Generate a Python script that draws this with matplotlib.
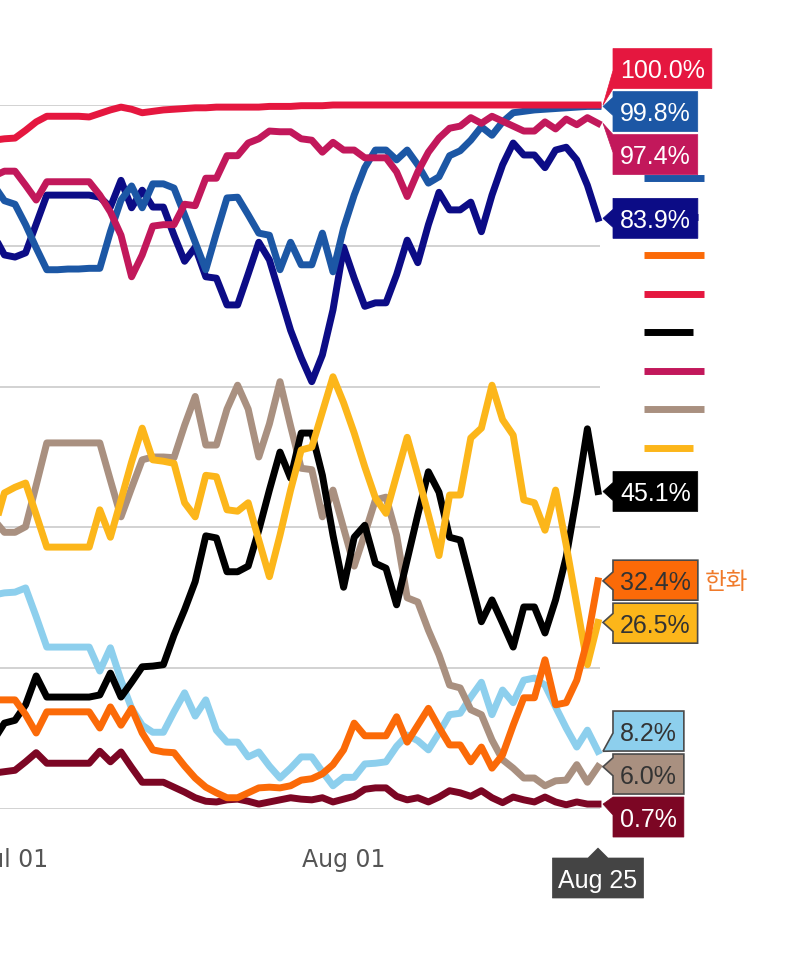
import numpy as np
import matplotlib
matplotlib.use('Agg')
import matplotlib.pyplot as plt
from matplotlib.patches import Polygon
from matplotlib.lines import Line2D
from matplotlib.transforms import IdentityTransform

# days counted from Jul 01 (Jun 29 .. Aug 25)
days = np.arange(-2, 56)
tick_days = [0, 31]
tick_labels = ['Jul 01', 'Aug 01']
end_label = 'Aug 25'

red = [95.0, 95.2, 95.3, 96.4, 97.6, 98.4, 98.4, 98.4, 98.4, 98.3,
       98.8, 99.3, 99.7, 99.4, 98.9, 99.1, 99.3, 99.4, 99.5, 99.6,
       99.6, 99.7, 99.7, 99.7, 99.7, 99.7, 99.8, 99.8, 99.8, 99.9,
       99.9, 99.9] + [100.0] * 26
blue = [88.6, 86.4, 85.9, 83.0, 79.7, 76.6, 76.6, 76.7, 76.7, 76.8,
        76.8, 82.0, 86.5, 88.5, 85.4, 88.8, 88.8, 88.2, 84.4, 80.5,
        76.6, 81.8, 86.8, 86.9, 84.4, 81.8, 81.5, 76.6, 80.5, 77.3,
        77.3, 81.8, 76.3, 82.5, 87.2, 91.1, 93.6, 93.6, 92.2, 93.6,
        91.5, 88.9, 89.8, 92.8, 93.5, 95.0, 96.9, 95.7, 97.6, 98.9,
        99.1, 99.3, 99.4, 99.5, 99.6, 99.7, 99.8, 99.8]
crimson = [89.9, 90.6, 90.6, 88.6, 86.5, 89.1, 89.1, 89.1, 89.1, 89.1,
           87.2, 84.8, 81.5, 75.6, 78.7, 82.8, 83.0, 83.0, 85.9, 85.7,
           89.6, 89.6, 92.8, 92.8, 94.6, 95.2, 96.3, 96.2, 96.2, 95.2,
           95.0, 93.3, 94.7, 93.6, 93.6, 92.5, 92.5, 92.5, 90.5, 87.0,
           90.5, 93.3, 95.3, 96.7, 97.0, 98.2, 97.4, 98.4, 97.7, 97.0,
           96.3, 96.3, 97.6, 96.6, 98.0, 97.2, 98.2, 97.4]
navy = [81.5, 78.7, 78.4, 79.0, 83.1, 87.2, 87.2, 87.2, 87.2, 87.2,
        86.9, 85.5, 89.3, 85.4, 87.9, 85.5, 85.5, 81.5, 77.8, 79.8,
        75.6, 75.4, 71.6, 71.6, 76.0, 80.5, 78.0, 73.0, 68.0, 64.1,
        60.7, 64.5, 70.9, 79.8, 75.4, 71.4, 71.9, 71.9, 75.9, 80.8,
        77.6, 83.0, 87.6, 85.1, 85.1, 86.2, 82.0, 87.2, 91.5, 94.6,
        92.9, 92.9, 91.1, 93.6, 94.0, 92.2, 88.6, 83.9]
black = [9.8, 12.2, 12.6, 14.8, 18.9, 15.9, 15.9, 15.9, 15.9, 15.9,
         16.2, 19.3, 15.9, 18.0, 20.2, 20.3, 20.5, 24.7, 28.3, 32.3,
         38.8, 38.5, 33.7, 33.7, 34.5, 39.6, 45.3, 50.7, 47.0, 53.4,
         53.4, 47.4, 38.9, 31.5, 38.6, 40.3, 34.9, 34.2, 29.0, 35.4,
         41.8, 47.9, 45.0, 38.6, 38.2, 32.4, 26.6, 29.7, 26.4, 23.0,
         28.7, 28.7, 25.0, 29.7, 35.8, 44.5, 54.0, 45.1]
orange = [15.5, 15.5, 15.5, 13.4, 10.8, 13.8, 13.8, 13.8, 13.8, 13.8,
          11.5, 14.5, 11.9, 14.3, 10.8, 8.4, 8.1, 8.0, 6.1, 4.4,
          3.1, 2.3, 1.6, 1.6, 2.3, 3.0, 3.1, 3.0, 3.3, 4.1,
          4.3, 5.0, 6.3, 8.4, 12.2, 10.4, 10.4, 10.4, 13.1, 9.5,
          11.9, 14.3, 11.6, 9.1, 9.1, 6.7, 8.8, 5.8, 7.7, 11.9,
          15.8, 15.8, 21.2, 14.8, 15.1, 18.3, 24.0, 32.4]
gold = [39.6, 44.9, 45.7, 46.3, 41.8, 37.2, 37.2, 37.2, 37.2, 37.2,
        42.5, 38.6, 43.9, 49.3, 54.1, 49.6, 49.4, 49.1, 43.5, 41.5,
        47.4, 47.2, 42.5, 42.3, 43.5, 38.2, 33.0, 38.9, 45.3, 51.0,
        51.4, 56.4, 61.4, 57.7, 53.4, 48.6, 44.2, 42.0, 47.4, 52.8,
        47.4, 41.8, 36.0, 44.6, 44.6, 52.7, 54.1, 60.2, 55.3, 53.1,
        43.9, 43.5, 39.6, 45.3, 37.5, 29.0, 20.5, 26.5]
tan = [41.1, 39.3, 39.3, 40.1, 46.0, 52.0, 52.0, 52.0, 52.0, 52.0,
       52.0, 46.7, 41.5, 45.6, 49.6, 50.0, 50.0, 49.9, 54.5, 58.6,
       51.7, 51.7, 56.8, 60.2, 56.8, 50.0, 54.7, 60.7, 54.4, 48.4,
       48.2, 41.5, 45.3, 39.9, 34.5, 39.1, 43.9, 44.3, 38.9, 30.0,
       29.4, 25.4, 21.9, 17.6, 17.2, 14.1, 13.4, 9.8, 7.0, 5.8,
       4.4, 4.4, 3.3, 4.0, 4.1, 6.3, 3.8, 6.0]
lightblue = [30.4, 30.7, 30.8, 31.4, 27.3, 23.0, 23.0, 23.0, 23.0, 23.0,
             19.6, 22.9, 18.3, 14.3, 11.9, 10.9, 10.9, 13.8, 16.5, 13.2,
             15.5, 11.2, 9.5, 9.5, 7.4, 8.1, 6.1, 4.4, 5.8, 7.4,
             7.4, 5.3, 3.3, 4.5, 4.5, 6.4, 6.5, 6.7, 8.9, 10.5,
             9.7, 8.4, 10.8, 13.4, 13.6, 15.9, 18.0, 13.4, 16.9, 15.1,
             18.3, 18.6, 17.6, 14.5, 11.5, 8.8, 11.2, 8.2]
maroon = [5.1, 5.3, 5.5, 6.7, 8.0, 6.5, 6.5, 6.5, 6.5, 6.5,
          8.2, 6.7, 8.1, 5.9, 3.8, 3.8, 3.8, 3.1, 2.4, 1.6,
          1.1, 1.0, 1.3, 1.4, 1.1, 0.7, 1.0, 1.3, 1.6, 1.4,
          1.3, 1.6, 1.0, 1.4, 1.8, 2.8, 3.0, 3.0, 1.8, 1.3,
          1.6, 1.0, 1.7, 2.6, 2.3, 1.8, 2.6, 1.6, 0.9, 1.7,
          1.3, 1.0, 1.7, 1.0, 0.6, 1.0, 0.7, 0.7]

# (values, line colour, label text colour, team name shown next to label)
series = [
    (maroon, '#7c0624', 'white', ''),
    (lightblue, '#8dcfed', '#333333', ''),
    (tan, '#a99080', '#333333', ''),
    (black, '#000000', 'white', ''),
    (gold, '#fcb61a', '#333333', ''),
    (orange, '#fb6a08', '#333333', '한화'),
    (navy, '#0c0c86', 'white', ''),
    (blue, '#1c57a5', 'white', ''),
    (crimson, '#c2185b', 'white', ''),
    (red, '#e5173f', 'white', ''),
]
legend_colors = ['#7c0624', '#8dcfed', '#1c57a5', '#0c0c86', '#fb6a08',
                 '#e5173f', '#000000', '#c2185b', '#a99080', '#fcb61a']
legend_len = [50, 50, 60, 54, 60, 60, 49, 60, 60, 49]

W, H = 800, 963
fig = plt.figure(figsize=(W / 100, H / 100), dpi=100)
ax = fig.add_axes([0, 154 / H, 600 / W, 704 / H])
ax.set_xlim(-1.415, 55.19)
ax.set_ylim(0, 100)

for vals, col, tcol, name in series:
    ax.plot(days, vals, color=col, lw=5.0, solid_joinstyle='round',
            clip_on=False, zorder=3)

ax.set_yticks(range(0, 101, 20))
ax.set_yticklabels([])
ax.grid(axis='y', color='#d2d2d2', lw=1.4, zorder=0)
ax.set_xticks(tick_days)
ax.set_xticklabels(tick_labels, fontsize=17, color='#555555',
                   family='DejaVu Sans')
ax.tick_params(length=0, pad=28)
for s in ax.spines.values():
    s.set_visible(False)

ident = IdentityTransform()

# legend strokes on the right (partly under the value labels)
for i, col in enumerate(legend_colors):
    y = H - (101 + 38.5 * i)
    fig.add_artist(Line2D([644, 644 + legend_len[i]], [y, y], color=col,
                          lw=5, transform=ident, zorder=2,
                          solid_capstyle='butt'))


def spread(targets, gap):
    order = np.argsort(targets)[::-1]
    groups = []
    for i in order:
        groups.append([[i], targets[i]])
        while len(groups) > 1:
            a, b = groups[-2], groups[-1]
            b_top = b[1] + (len(b[0]) - 1) * gap / 2
            a_bot = a[1] - (len(a[0]) - 1) * gap / 2
            if a_bot - b_top < gap:
                members = a[0] + b[0]
                groups[-2:] = [[members, np.mean([targets[m] for m in members])]]
            else:
                break
    pos = {}
    for members, c in groups:
        n = len(members)
        for j, m in enumerate(members):
            pos[m] = c + ((n - 1) / 2 - j) * gap
    return pos


renderer = fig.canvas.get_renderer()
end_x = ax.transData.transform((days[-1], 0))[0]
targets = [ax.transData.transform((days[-1], s[0][-1]))[1] for s in series]
pos = spread(targets, 43)
tip_x = end_x + 5
bx = end_x + 15
for i, (vals, col, tcol, name) in enumerate(series):
    ty = targets[i]
    cy = pos[i]
    t = fig.text(bx + 7, cy, f'{vals[-1]:.1f}%', transform=ident,
                 fontsize=18, family='Liberation Sans', color=tcol,
                 va='center_baseline', ha='left', zorder=7)
    w = t.get_window_extent(renderer).width + 14
    top, bot = cy + 20, cy - 20
    lo = min(max(ty - 9, bot), top - 18)
    hi = lo + 18
    pts = [(bx, top), (bx + w, top), (bx + w, bot), (bx, bot),
           (bx, lo), (tip_x, ty), (bx, hi)]
    light = tcol != 'white'
    fig.add_artist(Polygon(pts, closed=True, facecolor=col,
                           edgecolor='#4a4a4a' if light else col,
                           lw=1.2 if light else 0.5, transform=ident,
                           zorder=6))
    if name:
        fig.text(bx + w + 7, cy, name, transform=ident, fontsize=17,
                 family=['Noto Sans CJK KR', 'DejaVu Sans'], color='#f07a2a',
                 va='center_baseline', ha='left', zorder=7)

# current-date marker under the axis
ax_bot = ax.transData.transform((0, 0))[1]
apex = ax_bot - 39
t = fig.text(end_x, apex - 30, end_label, transform=ident, fontsize=18,
             family='Liberation Sans', color='white', va='center_baseline',
             ha='center', zorder=7)
w = t.get_window_extent(renderer).width + 12
btop, bbot = apex - 10, apex - 50
pts = [(end_x - w / 2, btop), (end_x - 10, btop), (end_x, apex),
       (end_x + 10, btop), (end_x + w / 2, btop), (end_x + w / 2, bbot),
       (end_x - w / 2, bbot)]
fig.add_artist(Polygon(pts, closed=True, facecolor='#444444',
                       edgecolor='#444444', lw=0.5, transform=ident, zorder=6))

fig.savefig('out.png', dpi=100, facecolor='white')
